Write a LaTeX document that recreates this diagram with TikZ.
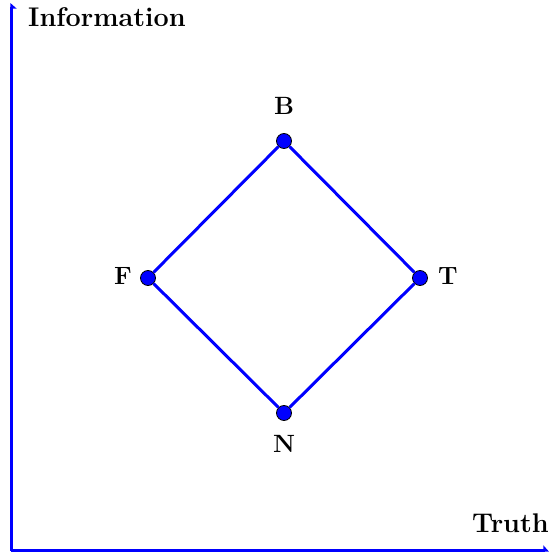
\documentclass[tikz,border=0pt]{standalone}
\usepackage{fontspec}
\usetikzlibrary{positioning, arrows.meta}

\begin{document}
\begin{tikzpicture}[
  x=1pt, y=1pt,
  edge/.style  = {draw=blue, line width=3pt},
  vtx/.style   = {circle, draw=black, fill=blue, line width=0.8pt, minimum size=15pt, inner sep=0pt},
  axis/.style  = {draw=blue, line width=3pt},
  lbl/.style   = {inner sep=0pt, font=\fontsize{25}{29}\selectfont\bfseries},
  axlbl/.style = {inner sep=0pt, font=\fontsize{27}{31}\selectfont\bfseries},
]
\useasboundingbox (0,0) rectangle (551,555);
% axes
\coordinate (O)  at (11,4);
\coordinate (yT) at (11,552);
\coordinate (xT) at (549,4);
\draw[axis, -{Triangle[length=5pt, width=11pt, right]}] (O) -- (yT);
\draw[axis, -{Triangle[length=5pt, width=11pt, left]}] (O) -- (xT);
\node[axlbl, anchor=base west] (info)  at (28,528) {Information};
\node[axlbl, anchor=base east] (truth) at (549,23) {Truth};
% bilattice vertices
\node[vtx] (B) at (284,414) {};
\node[vtx] (F) at (148,277) {};
\node[vtx] (T) at (420,277) {};
\node[vtx] (N) at (284,142) {};
\draw[edge] (B) -- (T) -- (N) -- (F) -- (B);
% vertex labels
\node[lbl] (lB) at (284,449) {B};
\node[lbl] (lF) at (123,279) {F};
\node[lbl] (lT) at (448,279) {T};
\node[lbl] (lN) at (284,111) {N};
\end{tikzpicture}
\end{document}
